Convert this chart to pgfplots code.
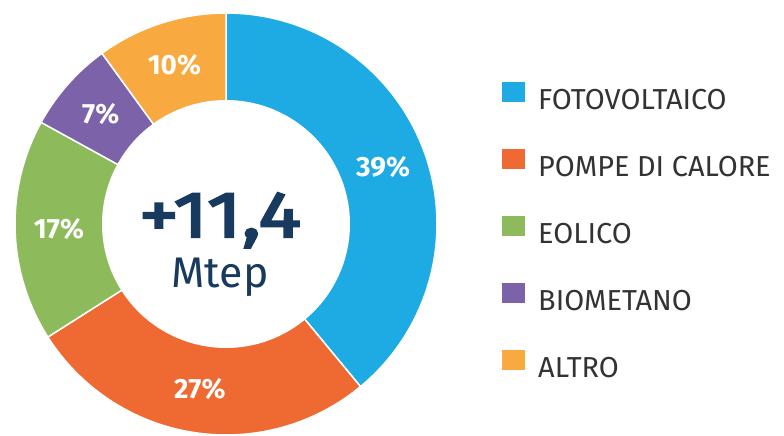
\documentclass[border=0pt]{standalone}
\usepackage{fontspec}
\setmainfont{Fira Sans}
\newfontfamily\heavyfont{Fira Sans}[UprightFont=*, BoldFont=*, UprightFeatures={FakeBold=3.5,FakeStretch=1.24}, BoldFeatures={FakeBold=3.5,FakeStretch=1.24}]
\usepackage{pgfplots}
\pgfplotsset{compat=1.18}
\definecolor{cFoto}{RGB}{30,170,226}
\definecolor{cPompe}{RGB}{239,106,50}
\definecolor{cEol}{RGB}{141,187,92}
\definecolor{cBio}{RGB}{124,98,168}
\definecolor{cAltro}{RGB}{248,170,64}
\definecolor{navy}{RGB}{24,58,94}
\definecolor{legtext}{RGB}{51,51,51}
% data (percent shares)
\def\vA{39}\def\vB{27}\def\vC{17}\def\vD{7}\def\vE{10}
\pgfmathsetmacro\aA{90}
\pgfmathsetmacro\aB{\aA-3.6*\vA}
\pgfmathsetmacro\aC{\aB-3.6*\vB}
\pgfmathsetmacro\aD{\aC-3.6*\vC}
\pgfmathsetmacro\aE{\aD-3.6*\vD}
\pgfmathsetmacro\aF{\aE-3.6*\vE}
\def\cx{226}\def\cy{212}\def\R{211}\def\r{124}\def\rl{167}
\begin{document}
\begin{tikzpicture}
\begin{axis}[scale only axis, width=784bp, height=436bp,
  xmin=0, xmax=784, ymin=0, ymax=436, hide axis, clip=false,
  legend style={draw=none, fill=none, at={(axis cs:502,354)}, anchor=north west,
    inner sep=0pt, row sep=34bp, text=legtext,
    font=\fontsize{29}{29}\selectfont,
    nodes={inner sep=0pt, text height=20bp, text depth=6bp},
    /tikz/every odd column/.append style={column sep=13bp}},
  legend cell align=left,
  legend image code/.code={\fill[#1,draw=none] (0bp,0bp) rectangle (23bp,20bp);},
  samples=90]
\path (axis cs:0,0) rectangle (axis cs:784,436);
\addplot[fill=cFoto, draw=white, line width=1.5pt, domain=\aB:\aA] ({\cx+\R*cos(x)},{\cy+\R*sin(x)}) -- (axis cs:\cx,\cy) -- cycle;
\addlegendentry{FOTOVOLTAICO}
\addplot[fill=cPompe, draw=white, line width=1.5pt, domain=\aC:\aB] ({\cx+\R*cos(x)},{\cy+\R*sin(x)}) -- (axis cs:\cx,\cy) -- cycle;
\addlegendentry{POMPE DI CALORE}
\addplot[fill=cEol, draw=white, line width=1.5pt, domain=\aD:\aC] ({\cx+\R*cos(x)},{\cy+\R*sin(x)}) -- (axis cs:\cx,\cy) -- cycle;
\addlegendentry{EOLICO}
\addplot[fill=cBio, draw=white, line width=1.5pt, domain=\aE:\aD] ({\cx+\R*cos(x)},{\cy+\R*sin(x)}) -- (axis cs:\cx,\cy) -- cycle;
\addlegendentry{BIOMETANO}
\addplot[fill=cAltro, draw=white, line width=1.5pt, domain=\aF:\aE] ({\cx+\R*cos(x)},{\cy+\R*sin(x)}) -- (axis cs:\cx,\cy) -- cycle;
\addlegendentry{ALTRO}
\addplot[fill=white, draw=none, forget plot, domain=0:360, samples=180] ({\cx+\r*cos(x)},{\cy+\r*sin(x)}) -- cycle;
% labels
\foreach \p/\s/\e in {39/\aA/\aB, 27/\aB/\aC, 17/\aC/\aD, 7/\aD/\aE, 10/\aE/\aF}{
  \pgfmathsetmacro\m{(\s+\e)/2}
  \pgfmathsetmacro\lx{\cx+\rl*cos(\m)}
  \pgfmathsetmacro\ly{\cy+\rl*sin(\m)}
  \edef\temp{\noexpand\node[text=white, font=\noexpand\bfseries\noexpand\fontsize{28}{28}\noexpand\selectfont, anchor=center, inner sep=0pt] at (axis cs:\lx,\ly) {\p\noexpand\%};}
  \temp
}
\node[text=navy, font=\heavyfont\bfseries\fontsize{65}{65}\selectfont, anchor=base, inner sep=0pt] at (axis cs:220,199) {+11,4};
\node[text=navy, font=\fontsize{43}{43}\selectfont, anchor=base, inner sep=0pt] at (axis cs:220,148) {Mtep};
\end{axis}
\end{tikzpicture}
\end{document}
